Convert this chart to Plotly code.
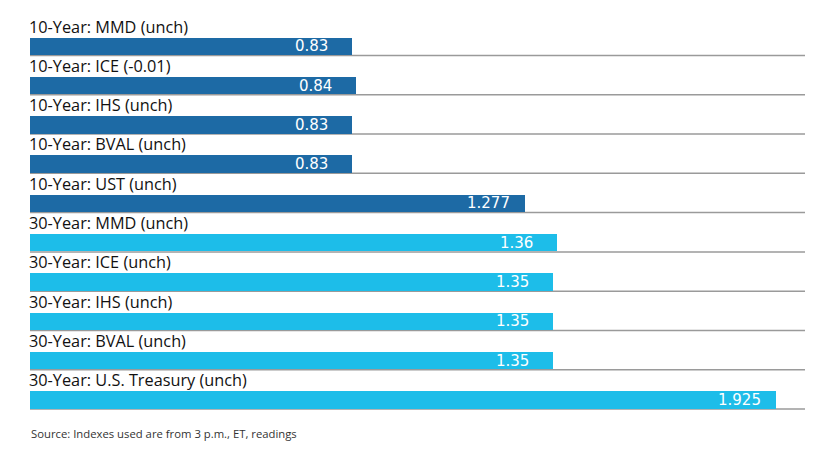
import plotly.graph_objects as go

labels = [
    "10-Year: MMD (unch)",
    "10-Year: ICE (-0.01)",
    "10-Year: IHS (unch)",
    "10-Year: BVAL (unch)",
    "10-Year: UST (unch)",
    "30-Year: MMD (unch)",
    "30-Year: ICE (unch)",
    "30-Year: IHS (unch)",
    "30-Year: BVAL (unch)",
    "30-Year: U.S. Treasury (unch)",
]
value_text = ["0.83", "0.84", "0.83", "0.83", "1.277", "1.36", "1.35", "1.35", "1.35", "1.925"]
values = [float(v) for v in value_text]
groups = ["10", "10", "10", "10", "10", "30", "30", "30", "30", "30"]

DARK = "#1d6aa5"
LIGHT = "#1dbde9"
BAR_TOP = 0.42
BAR_W = 0.445

n = len(labels)
ycent = [i + BAR_TOP + BAR_W / 2 for i in range(n)]
colors = [DARK if g == "10" else LIGHT for g in groups]

fig = go.Figure()
fig.add_trace(go.Bar(
    x=values, y=ycent, orientation="h", width=BAR_W,
    marker=dict(color=colors, line=dict(width=0)),
    hoverinfo="skip",
))

shapes = []
annotations = []
for i in range(n):
    shapes.append(dict(type="line", xref="x", yref="y", x0=0, x1=2.0,
                       y0=i + BAR_TOP + BAR_W + 0.01, y1=i + BAR_TOP + BAR_W + 0.01,
                       line=dict(color="#9a9a9a", width=1.5), layer="below"))
    annotations.append(dict(x=0, y=i + BAR_TOP, xref="x", yref="y", text=labels[i],
                            showarrow=False, xanchor="left", yanchor="bottom",
                            xshift=-3, yshift=-2,
                            font=dict(family="Open Sans", size=16.3, color="#111111")))
    decimals = len(value_text[i].split(".")[1])
    annotations.append(dict(x=values[i], y=ycent[i], xref="x", yref="y", text=value_text[i],
                            showarrow=False, xanchor="right", yanchor="middle",
                            xshift=-13 if decimals == 3 else -22,
                            font=dict(family="DejaVu Sans", size=15, color="white")))

annotations.append(dict(x=0, y=0, xref="paper", yref="paper", text="Source: Indexes used are from 3 p.m., ET, readings",
                        showarrow=False, xanchor="left", yanchor="top", xshift=-1, yshift=-10,
                        font=dict(family="Open Sans", size=11.3, color="#333333")))

fig.update_layout(
    width=840, height=454,
    margin=dict(l=22, r=43, t=12.5, b=47.5),
    paper_bgcolor="white", plot_bgcolor="white",
    showlegend=False,
    bargap=0,
    xaxis=dict(range=[0, 2.0], visible=False, fixedrange=True),
    yaxis=dict(range=[n, 0], visible=False, fixedrange=True),
    shapes=shapes,
    annotations=annotations,
)

fig.write_html("out.html")
